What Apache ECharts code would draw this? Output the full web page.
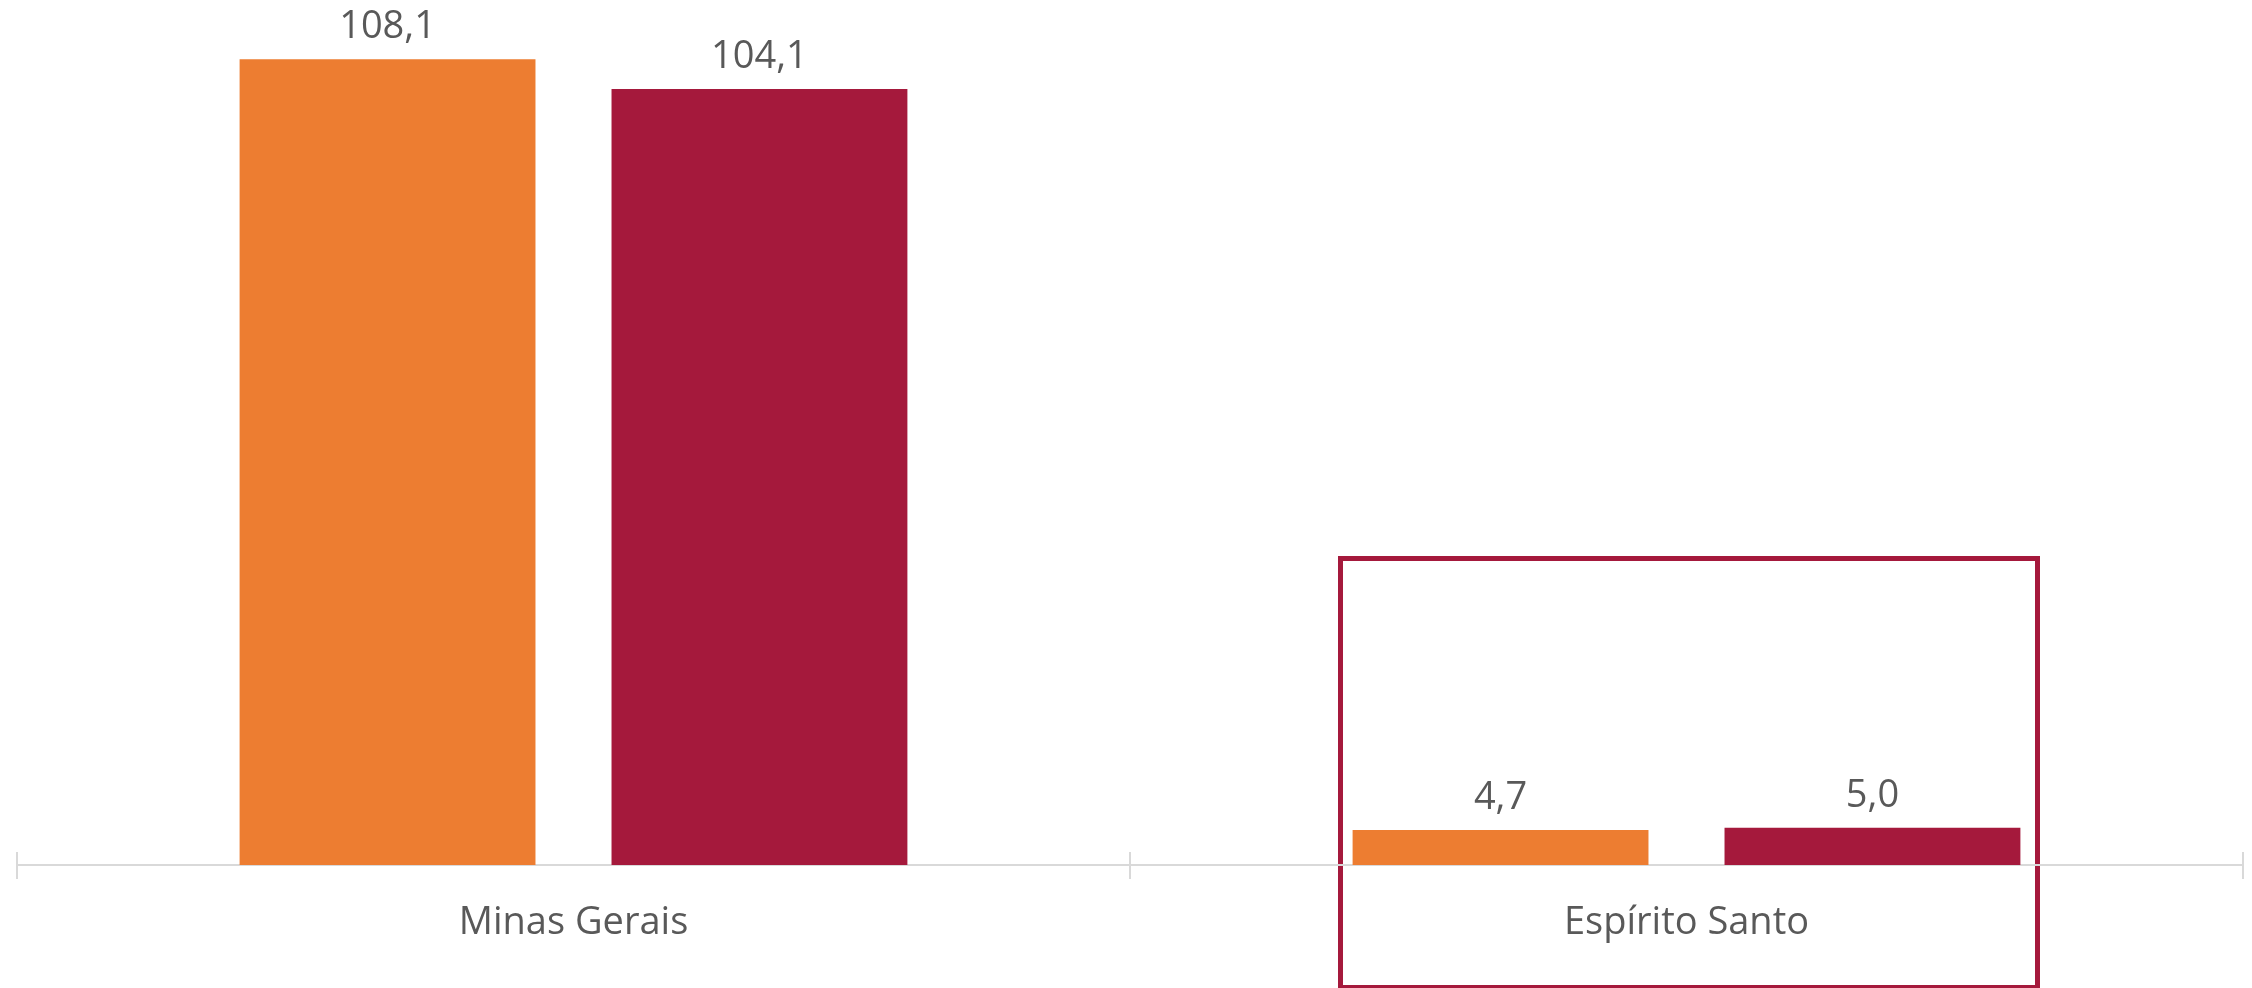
<!DOCTYPE html>
<html>
<head>
<meta charset="utf-8">
<style>html,body{margin:0;padding:0;background:#fff}#c{width:2252px;height:988px}</style>
<script src="https://cdn.jsdelivr.net/npm/echarts@6/dist/echarts.min.js"></script>
</head>
<body>
<div id="c"></div>
<script>
const categories = ['Minas Gerais', 'Espírito Santo'];
const seriesA = [108.1, 4.7];
const seriesB = [104.1, 5.0];
const seriesNames = ['Série 1', 'Série 2'];

const FONT = '"Open Sans", "Noto Sans", sans-serif';
const fmt = p => p.value.toFixed(1).replace('.', ',');
const chart = echarts.init(document.getElementById('c'));
const labelCfg = {show: true, position: 'top', distance: 13, color: '#595959', fontSize: 38, fontFamily: FONT, formatter: fmt};
chart.setOption({
  animation: false,
  grid: {left: 17, right: 9, top: 45, bottom: 123},
  xAxis: [{
    type: 'category', data: categories,
    axisLine: {lineStyle: {color: '#d9d9d9', width: 2}},
    axisTick: {show: true, length: 14, lineStyle: {color: '#d9d9d9', width: 2}},
    axisLabel: {color: '#595959', fontSize: 38, fontFamily: FONT, margin: 39}
  }, {
    type: 'category', data: categories, position: 'bottom',
    axisLine: {show: false},
    axisTick: {show: true, inside: true, length: 13, lineStyle: {color: '#d9d9d9', width: 2}},
    axisLabel: {show: false}
  }],
  yAxis: {type: 'value', min: 0, max: 110, show: false, splitLine: {show: false}},
  series: [
    {name: seriesNames[0], type: 'bar', data: seriesA, itemStyle: {color: '#ED7D31'}, barCategoryGap: '40%', barGap: '25.7%', label: labelCfg},
    {name: seriesNames[1], type: 'bar', data: seriesB, itemStyle: {color: '#A5193C'}, barCategoryGap: '40%', barGap: '25.7%', label: labelCfg}
  ],
  graphic: [{
    type: 'rect', left: 1338, top: 556, silent: true,
    shape: {width: 697, height: 429},
    style: {fill: 'none', stroke: '#A5193C', lineWidth: 5}
  }]
});
</script>
</body>
</html>
